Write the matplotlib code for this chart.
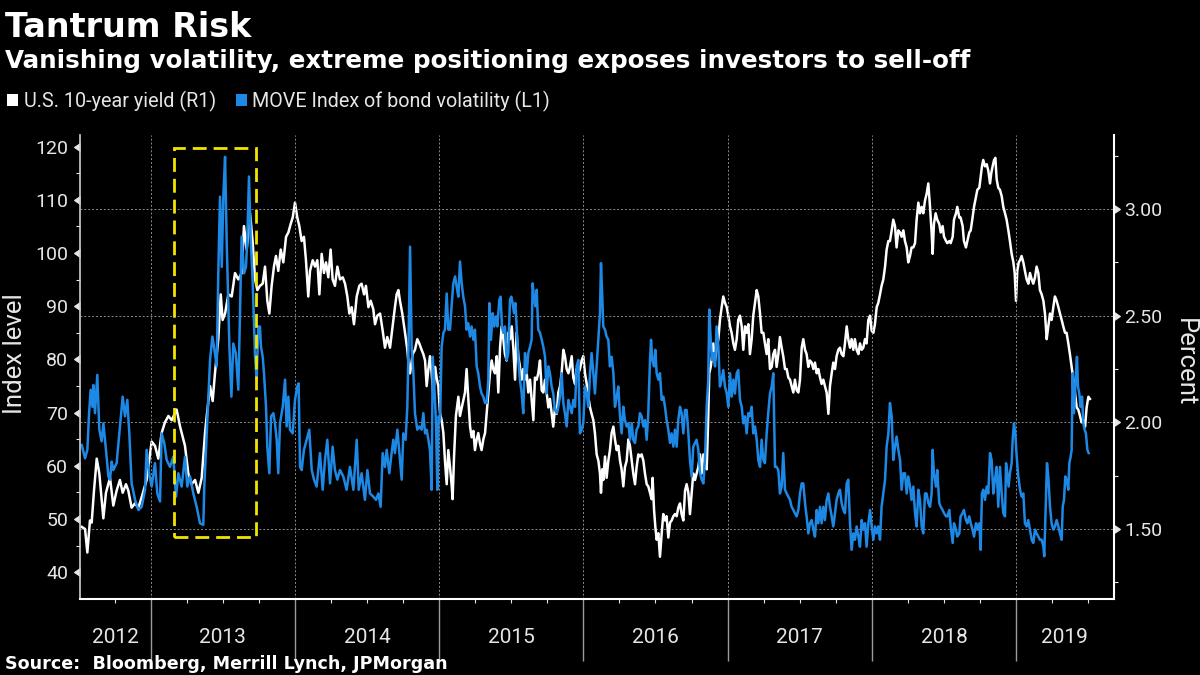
import matplotlib
matplotlib.use("Agg")
import matplotlib.pyplot as plt
from matplotlib.patches import Patch, Rectangle
from matplotlib.ticker import FormatStrFormatter

# MOVE index (left axis), time in decimal years
move_t = [
    2012.521, 2012.544, 2012.560, 2012.572, 2012.583, 2012.595, 2012.602, 2012.613, 2012.629, 2012.643,
    2012.659, 2012.671, 2012.689, 2012.706, 2012.717, 2012.729, 2012.740, 2012.763, 2012.786, 2012.805,
    2012.821, 2012.837, 2012.851, 2012.867, 2012.891, 2012.914, 2012.937, 2012.960, 2012.971, 2012.988,
    2013.006, 2013.029, 2013.045, 2013.064, 2013.075, 2013.094, 2013.110, 2013.133, 2013.156, 2013.175,
    2013.191, 2013.214, 2013.237, 2013.253, 2013.272, 2013.295, 2013.318, 2013.341, 2013.364, 2013.371,
    2013.388, 2013.411, 2013.427, 2013.438, 2013.457, 2013.468, 2013.480, 2013.492, 2013.503, 2013.515,
    2013.526, 2013.545, 2013.559, 2013.572, 2013.589, 2013.607,
    2013.630, 2013.646, 2013.660, 2013.669, 2013.681, 2013.693, 2013.706, 2013.723, 2013.734, 2013.746,
    2013.757, 2013.764, 2013.776, 2013.785, 2013.799, 2013.808, 2013.822, 2013.834, 2013.850, 2013.861,
    2013.873, 2013.884, 2013.896, 2013.915, 2013.931, 2013.942, 2013.954, 2013.965, 2013.984, 2014.000,
    2014.016, 2014.025, 2014.035, 2014.046, 2014.062, 2014.081, 2014.099, 2014.116, 2014.132, 2014.150,
    2014.173, 2014.192, 2014.208, 2014.224, 2014.243, 2014.261, 2014.277, 2014.294, 2014.312, 2014.335,
    2014.358, 2014.381, 2014.405, 2014.428, 2014.442, 2014.462, 2014.485, 2014.502, 2014.520, 2014.543,
    2014.562, 2014.578, 2014.594, 2014.608, 2014.624, 2014.636, 2014.654, 2014.670, 2014.682, 2014.693,
    2014.710, 2014.724, 2014.740, 2014.751, 2014.767, 2014.779, 2014.786,
    2014.798, 2014.809, 2014.821, 2014.832, 2014.848, 2014.862, 2014.878, 2014.890, 2014.902, 2014.913,
    2014.925, 2014.936, 2014.948, 2014.955, 2014.964, 2014.978, 2014.987, 2014.996, 2015.006, 2015.017,
    2015.029, 2015.040, 2015.052, 2015.063, 2015.075, 2015.086, 2015.098, 2015.110, 2015.121, 2015.133,
    2015.144, 2015.156, 2015.167, 2015.179, 2015.190, 2015.202, 2015.214, 2015.225, 2015.237, 2015.248,
    2015.260, 2015.271, 2015.283, 2015.294, 2015.306, 2015.318, 2015.329, 2015.341, 2015.348, 2015.359,
    2015.371, 2015.382, 2015.394, 2015.403, 2015.417, 2015.426, 2015.435, 2015.445, 2015.456, 2015.468,
    2015.479, 2015.491, 2015.500, 2015.509, 2015.519, 2015.528, 2015.537, 2015.549, 2015.560, 2015.572,
    2015.583, 2015.595, 2015.607, 2015.618, 2015.630, 2015.641, 2015.648, 2015.657, 2015.667, 2015.676,
    2015.687, 2015.699, 2015.711, 2015.722, 2015.734, 2015.745, 2015.757, 2015.768, 2015.780, 2015.791,
    2015.803, 2015.815, 2015.826, 2015.838, 2015.849, 2015.861, 2015.872, 2015.884, 2015.896, 2015.907,
    2015.919, 2015.930, 2015.942, 2015.953, 2015.965,
    2015.976, 2015.988, 2015.999, 2016.011, 2016.023, 2016.034, 2016.046, 2016.057, 2016.069, 2016.080,
    2016.092, 2016.104, 2016.115, 2016.122, 2016.131, 2016.138, 2016.150, 2016.161, 2016.173, 2016.184,
    2016.196, 2016.208, 2016.219, 2016.231, 2016.242, 2016.254, 2016.265, 2016.277, 2016.288, 2016.300,
    2016.312, 2016.323, 2016.335, 2016.346, 2016.358, 2016.369, 2016.381, 2016.392, 2016.404, 2016.416,
    2016.427, 2016.439, 2016.450, 2016.462, 2016.469, 2016.478, 2016.490, 2016.499, 2016.508, 2016.520,
    2016.531, 2016.543, 2016.554, 2016.566, 2016.577, 2016.589, 2016.601, 2016.612, 2016.624, 2016.635,
    2016.647, 2016.658, 2016.670, 2016.681, 2016.693, 2016.705, 2016.716, 2016.728, 2016.739, 2016.751,
    2016.762, 2016.774, 2016.785, 2016.797, 2016.809, 2016.820, 2016.832, 2016.843, 2016.855, 2016.866,
    2016.873, 2016.883, 2016.892, 2016.901, 2016.913, 2016.924, 2016.936, 2016.947, 2016.959, 2016.970,
    2016.982, 2016.994, 2017.005, 2017.017, 2017.028, 2017.040, 2017.051, 2017.063, 2017.074, 2017.086,
    2017.098, 2017.109, 2017.121, 2017.132, 2017.144,
    2017.155, 2017.167, 2017.178, 2017.190, 2017.202, 2017.213, 2017.225, 2017.236, 2017.248, 2017.259,
    2017.271, 2017.282, 2017.294, 2017.306, 2017.317, 2017.329, 2017.340, 2017.352, 2017.363, 2017.375,
    2017.386, 2017.398, 2017.410, 2017.421, 2017.433, 2017.444, 2017.456, 2017.467, 2017.479, 2017.491,
    2017.502, 2017.514, 2017.525, 2017.537, 2017.548, 2017.560, 2017.571, 2017.583, 2017.595, 2017.606,
    2017.618, 2017.629, 2017.641, 2017.652, 2017.664, 2017.675, 2017.687, 2017.699, 2017.710, 2017.722,
    2017.733, 2017.745, 2017.756, 2017.768, 2017.779, 2017.791, 2017.803, 2017.814, 2017.826, 2017.837,
    2017.849, 2017.860, 2017.872, 2017.883, 2017.895, 2017.907, 2017.918, 2017.930, 2017.941, 2017.953,
    2017.964, 2017.976, 2017.988, 2017.999, 2018.011, 2018.022, 2018.034, 2018.045, 2018.057, 2018.068,
    2018.080, 2018.092, 2018.103, 2018.115, 2018.126, 2018.138, 2018.149, 2018.161, 2018.172, 2018.184,
    2018.196, 2018.207, 2018.219, 2018.230, 2018.242, 2018.253, 2018.265, 2018.276, 2018.288, 2018.300,
    2018.311, 2018.323,
    2018.334, 2018.346, 2018.357, 2018.369, 2018.380, 2018.392, 2018.404, 2018.415, 2018.422, 2018.431,
    2018.445, 2018.454, 2018.468, 2018.478, 2018.491, 2018.501, 2018.515, 2018.524, 2018.538, 2018.547,
    2018.561, 2018.570, 2018.584, 2018.593, 2018.607, 2018.616, 2018.630, 2018.639, 2018.653, 2018.663,
    2018.676, 2018.686, 2018.699, 2018.709, 2018.723, 2018.732, 2018.746, 2018.755, 2018.764, 2018.773,
    2018.785, 2018.797, 2018.808, 2018.820, 2018.831, 2018.843, 2018.854, 2018.866, 2018.877, 2018.889,
    2018.901, 2018.912, 2018.924, 2018.931, 2018.940, 2018.949, 2018.958, 2018.970, 2018.977, 2018.986,
    2018.995, 2019.005, 2019.016, 2019.028, 2019.039, 2019.051, 2019.062, 2019.074, 2019.085, 2019.097,
    2019.109, 2019.120, 2019.132, 2019.143, 2019.155, 2019.166, 2019.178, 2019.190, 2019.196, 2019.206,
    2019.215, 2019.224, 2019.236, 2019.247, 2019.259, 2019.270, 2019.282, 2019.294, 2019.305, 2019.317,
    2019.324, 2019.333, 2019.342, 2019.351, 2019.363, 2019.370, 2019.379, 2019.386, 2019.393, 2019.402,
    2019.409, 2019.416, 2019.423, 2019.430, 2019.439, 2019.448, 2019.458, 2019.467, 2019.476, 2019.485,
    2019.495, 2019.504,
]
move_v = [
    63.9, 61.4, 63.0, 69.9, 74.3, 71.1, 75.2, 69.9, 77.1, 66.8,
    64.6, 68.0, 63.0, 58.0, 57.4, 60.8, 59.2, 60.5, 67.4, 73.0,
    69.3, 72.4, 66.1, 56.7, 53.6, 51.7, 52.3, 55.5, 63.0, 58.6,
    56.1, 60.5, 54.8, 53.3, 66.1, 64.2, 61.1, 59.8, 61.7, 54.2,
    58.6, 56.1, 61.7, 56.1, 58.0, 54.8, 52.3, 49.2, 48.9, 56.1,
    66.1, 79.9, 84.3, 82.4, 78.7, 96.2, 110.6, 97.4, 110.6, 118.1,
    102.5, 82.4, 73.0, 83.0, 81.2, 74.3,
    103.1, 96.2, 97.4, 102.5, 114.4, 102.5, 95.0, 80.5, 76.2, 86.2,
    86.2, 82.4, 80.5, 77.4, 71.1, 63.6, 58.6, 69.3, 69.9, 68.0,
    64.9, 58.6, 68.0, 71.1, 76.2, 67.4, 73.0, 66.8, 66.1, 72.4,
    74.9, 75.5, 59.8, 59.2, 63.0, 64.9, 66.8, 59.2, 57.4, 56.1,
    62.4, 55.5, 61.1, 64.9, 56.7, 63.6, 59.2, 57.4, 59.2, 58.0,
    55.5, 59.8, 55.5, 64.9, 55.5, 58.6, 53.6, 59.2, 54.8, 54.2,
    53.6, 54.8, 52.3, 62.4, 59.8, 63.0, 58.6, 62.4, 64.9, 62.4,
    66.8, 62.4, 57.4, 66.1, 64.9, 71.1, 80.5,
    101.2, 82.4, 77.4, 69.9, 66.8, 67.4, 66.8, 69.9, 66.1, 66.8,
    64.9, 63.0, 55.5, 80.5, 76.2, 68.0, 55.5, 69.3, 68.6, 82.4,
    85.0, 85.6, 92.4, 85.6, 85.6, 90.0, 94.3, 95.6, 93.7, 91.8,
    98.4, 94.3, 91.8, 90.0, 85.6, 86.8, 84.3, 86.2, 83.7, 85.6,
    78.7, 77.4, 74.9, 73.6, 73.0, 71.8, 71.8, 76.2, 90.6, 83.7,
    88.7, 86.2, 88.1, 86.2, 91.2, 91.8, 86.2, 85.0, 86.2, 79.9,
    81.2, 91.2, 91.8, 90.6, 88.7, 90.6, 86.2, 79.9, 76.2, 73.6,
    69.9, 81.2, 77.4, 81.2, 82.4, 83.7, 94.3, 91.8, 90.0, 93.1,
    85.6, 85.0, 83.7, 82.4, 80.5, 73.6, 78.7, 77.4, 74.9, 73.6,
    70.5, 69.9, 71.1, 73.0, 77.4, 71.8, 69.9, 67.4, 72.4, 71.1,
    69.9, 72.4, 71.1, 78.7, 79.9,
    66.1, 66.8, 68.0, 74.9, 73.6, 71.1, 77.4, 81.2, 77.4, 73.6,
    78.7, 83.7, 88.7, 98.1, 91.8, 86.2, 85.6, 84.3, 83.7, 78.7,
    80.5, 77.4, 71.1, 73.0, 74.9, 69.3, 66.1, 71.1, 68.6, 67.4,
    68.0, 64.9, 68.0, 64.9, 64.3, 66.8, 67.4, 69.9, 69.3, 67.4,
    68.6, 64.9, 69.9, 79.9, 83.7, 79.9, 78.7, 81.8, 77.4, 76.2,
    77.4, 72.4, 73.0, 71.1, 68.6, 66.8, 64.3, 66.1, 63.6, 66.8,
    63.6, 68.6, 71.1, 69.9, 66.1, 70.5, 70.5, 66.1, 61.1, 58.0,
    63.6, 64.3, 64.9, 63.0, 58.6, 57.4, 56.7, 61.1, 71.1, 76.2,
    89.4, 83.7, 79.9, 81.2, 78.7, 86.2, 82.4, 74.9, 76.2, 78.0,
    74.9, 73.6, 71.1, 77.4, 73.0, 76.2, 73.6, 77.4, 78.0, 72.4,
    71.1, 68.0, 69.3, 66.1, 69.9,
    69.3, 71.1, 66.1, 67.4, 64.9, 61.1, 59.8, 64.9, 61.1, 60.5,
    66.1, 69.9, 73.6, 74.9, 77.4, 59.8, 59.8, 59.2, 54.8, 56.1,
    62.4, 55.5, 54.8, 54.2, 53.6, 52.3, 51.7, 51.1, 50.5, 51.7,
    54.8, 56.7, 56.7, 53.0, 50.5, 47.3, 49.2, 49.8, 48.0, 46.7,
    51.7, 49.2, 52.3, 49.2, 52.3, 49.8, 53.6, 54.8, 52.3, 50.5,
    48.6, 51.1, 53.6, 54.8, 55.5, 53.0, 51.7, 51.1, 56.7, 57.4,
    49.2, 44.2, 47.3, 46.1, 48.6, 46.7, 44.8, 49.8, 48.0, 49.2,
    44.8, 49.2, 51.7, 48.6, 46.1, 48.6, 47.3, 48.6, 46.1, 52.3,
    54.8, 57.4, 63.6, 66.1, 71.8, 69.3, 61.1, 63.6, 65.5, 63.0,
    61.1, 55.5, 58.6, 58.6, 54.8, 58.0, 56.1, 53.6, 56.1, 51.1,
    48.6, 55.5,
    53.6, 48.6, 47.3, 54.8, 54.8, 53.0, 52.3, 54.8, 63.0, 58.6,
    56.1, 59.2, 53.0, 52.3, 51.7, 51.1, 50.5, 50.5, 51.7, 48.6,
    45.5, 49.2, 48.0, 46.7, 47.3, 50.5, 51.1, 51.7, 49.8, 49.2,
    50.5, 49.2, 48.0, 46.7, 49.2, 48.0, 49.2, 44.2, 54.8, 55.5,
    53.6, 56.1, 54.8, 62.4, 61.1, 54.8, 57.4, 59.8, 52.3, 59.8,
    54.8, 51.1, 50.5, 60.5, 58.6, 56.1, 58.6, 60.5, 64.9, 68.0,
    66.1, 61.7, 58.0, 55.5, 54.2, 54.8, 49.2, 48.6, 49.8, 48.0,
    46.1, 45.5, 48.0, 47.3, 46.7, 46.1, 46.1, 44.8, 43.0, 52.3,
    60.5, 58.0, 52.3, 49.2, 48.0, 48.6, 49.8, 48.6, 47.3, 46.1,
    52.3, 53.6, 58.0, 57.4, 55.5, 60.5, 61.7, 63.0, 77.4, 69.9,
    73.6, 77.4, 80.5, 74.9, 73.6, 71.1, 73.0, 68.0, 66.8, 66.1,
    63.0, 62.4,
]

# U.S. 10-year yield (right axis), percent
yield_t = [
    2012.521, 2012.544, 2012.560, 2012.578, 2012.590, 2012.606, 2012.625, 2012.643, 2012.659, 2012.671,
    2012.689, 2012.717, 2012.740, 2012.763, 2012.786, 2012.805, 2012.828, 2012.844, 2012.867, 2012.890,
    2012.914, 2012.937, 2012.971, 2013.006, 2013.029, 2013.052, 2013.075, 2013.098, 2013.122, 2013.145,
    2013.179, 2013.203, 2013.237, 2013.260, 2013.283, 2013.307, 2013.330, 2013.353, 2013.376, 2013.388,
    2013.411, 2013.429, 2013.445, 2013.468, 2013.485, 2013.498, 2013.515, 2013.538, 2013.561, 2013.584,
    2013.607,
    2013.630, 2013.646, 2013.665, 2013.688, 2013.706, 2013.723, 2013.739, 2013.757, 2013.776, 2013.792,
    2013.808, 2013.822, 2013.838, 2013.854, 2013.868, 2013.884, 2013.901, 2013.919, 2013.938, 2013.954,
    2013.970, 2013.984, 2014.000, 2014.016, 2014.030, 2014.046, 2014.062, 2014.076, 2014.092, 2014.104,
    2014.123, 2014.139, 2014.155, 2014.169, 2014.185, 2014.201, 2014.215, 2014.231, 2014.247, 2014.261,
    2014.277, 2014.294, 2014.312, 2014.331, 2014.347, 2014.363, 2014.377, 2014.393, 2014.409, 2014.428,
    2014.446, 2014.462, 2014.479, 2014.492, 2014.509, 2014.525, 2014.543, 2014.555, 2014.571, 2014.590,
    2014.608, 2014.624, 2014.640, 2014.659, 2014.677, 2014.693, 2014.705, 2014.717, 2014.728, 2014.744,
    2014.763, 2014.779, 2014.793,
    2014.798, 2014.816, 2014.832, 2014.848, 2014.862, 2014.878, 2014.890, 2014.902, 2014.913, 2014.925,
    2014.936, 2014.948, 2014.959, 2014.971, 2014.982, 2014.994, 2015.006, 2015.017, 2015.029, 2015.040,
    2015.052, 2015.063, 2015.075, 2015.086, 2015.093, 2015.103, 2015.116, 2015.133, 2015.144, 2015.163,
    2015.179, 2015.190, 2015.202, 2015.214, 2015.225, 2015.237, 2015.248, 2015.260, 2015.271, 2015.283,
    2015.294, 2015.306, 2015.318, 2015.329, 2015.341, 2015.352, 2015.364, 2015.375, 2015.387, 2015.399,
    2015.410, 2015.422, 2015.433, 2015.445, 2015.456, 2015.468, 2015.479, 2015.491, 2015.503, 2015.514,
    2015.526, 2015.537, 2015.549, 2015.560, 2015.572, 2015.583, 2015.595, 2015.607, 2015.618, 2015.630,
    2015.641, 2015.653, 2015.664, 2015.676, 2015.687, 2015.699, 2015.711, 2015.722, 2015.734, 2015.745,
    2015.757, 2015.768, 2015.780, 2015.791, 2015.803, 2015.815, 2015.826, 2015.838, 2015.849, 2015.861,
    2015.872, 2015.884, 2015.896, 2015.907, 2015.919, 2015.930, 2015.942, 2015.953, 2015.965,
    2015.976, 2015.988, 2015.999, 2016.011, 2016.023, 2016.034, 2016.046, 2016.057, 2016.069, 2016.080,
    2016.092, 2016.104, 2016.115, 2016.122, 2016.131, 2016.138, 2016.150, 2016.161, 2016.173, 2016.184,
    2016.196, 2016.208, 2016.219, 2016.231, 2016.242, 2016.254, 2016.265, 2016.277, 2016.288, 2016.300,
    2016.312, 2016.323, 2016.335, 2016.346, 2016.358, 2016.369, 2016.381, 2016.392, 2016.404, 2016.416,
    2016.427, 2016.439, 2016.450, 2016.462, 2016.473, 2016.480, 2016.490, 2016.499, 2016.508, 2016.520,
    2016.531, 2016.543, 2016.554, 2016.566, 2016.577, 2016.589, 2016.601, 2016.612, 2016.624, 2016.635,
    2016.647, 2016.658, 2016.670, 2016.681, 2016.693, 2016.705, 2016.716, 2016.728, 2016.739, 2016.751,
    2016.762, 2016.774, 2016.785, 2016.797, 2016.809, 2016.820, 2016.832, 2016.843, 2016.855, 2016.864,
    2016.873, 2016.883, 2016.892, 2016.901, 2016.913, 2016.924, 2016.936, 2016.947, 2016.959, 2016.970,
    2016.982, 2016.994, 2017.005, 2017.017, 2017.028, 2017.040, 2017.051, 2017.063, 2017.074, 2017.086,
    2017.098, 2017.109, 2017.121, 2017.132, 2017.144,
    2017.155, 2017.167, 2017.178, 2017.190, 2017.202, 2017.213, 2017.225, 2017.236, 2017.248, 2017.259,
    2017.271, 2017.282, 2017.294, 2017.306, 2017.317, 2017.329, 2017.340, 2017.352, 2017.363, 2017.375,
    2017.386, 2017.398, 2017.410, 2017.421, 2017.433, 2017.444, 2017.456, 2017.467, 2017.479, 2017.491,
    2017.502, 2017.514, 2017.525, 2017.537, 2017.548, 2017.560, 2017.571, 2017.583, 2017.595, 2017.606,
    2017.618, 2017.629, 2017.641, 2017.652, 2017.664, 2017.675, 2017.687, 2017.699, 2017.710, 2017.722,
    2017.733, 2017.745, 2017.756, 2017.768, 2017.779, 2017.791, 2017.803, 2017.814, 2017.826, 2017.837,
    2017.849, 2017.860, 2017.872, 2017.883, 2017.895, 2017.907, 2017.918, 2017.930, 2017.941, 2017.953,
    2017.964, 2017.976, 2017.988, 2017.999, 2018.011, 2018.022, 2018.034, 2018.045, 2018.057, 2018.068,
    2018.080, 2018.092, 2018.103, 2018.115, 2018.126, 2018.138, 2018.149, 2018.161, 2018.172, 2018.184,
    2018.196, 2018.207, 2018.219, 2018.230, 2018.242, 2018.253, 2018.265, 2018.276, 2018.288, 2018.300,
    2018.311, 2018.323,
    2018.334, 2018.346, 2018.357, 2018.369, 2018.380, 2018.392, 2018.404, 2018.415, 2018.422, 2018.431,
    2018.443, 2018.454, 2018.468, 2018.478, 2018.491, 2018.501, 2018.515, 2018.524, 2018.538, 2018.547,
    2018.561, 2018.570, 2018.584, 2018.593, 2018.607, 2018.616, 2018.630, 2018.639, 2018.653, 2018.663,
    2018.676, 2018.686, 2018.699, 2018.709, 2018.723, 2018.732, 2018.746, 2018.755, 2018.764, 2018.773,
    2018.785, 2018.797, 2018.808, 2018.820, 2018.829, 2018.838, 2018.848, 2018.857, 2018.866, 2018.877,
    2018.889, 2018.901, 2018.912, 2018.924, 2018.935, 2018.947, 2018.958, 2018.970, 2018.982, 2018.991,
    2019.000, 2019.009, 2019.019, 2019.028, 2019.039, 2019.051, 2019.062, 2019.074, 2019.086, 2019.097,
    2019.109, 2019.120, 2019.132, 2019.143, 2019.155, 2019.166, 2019.178, 2019.190, 2019.201, 2019.213,
    2019.224, 2019.236, 2019.247, 2019.259, 2019.270, 2019.282, 2019.294, 2019.305, 2019.317, 2019.328,
    2019.340, 2019.351, 2019.363, 2019.374, 2019.386, 2019.398, 2019.409, 2019.421, 2019.432, 2019.444,
    2019.455, 2019.467, 2019.479, 2019.490, 2019.502, 2019.513,
]
yield_v = [
    1.51, 1.50, 1.39, 1.54, 1.53, 1.68, 1.83, 1.76, 1.64, 1.55,
    1.67, 1.74, 1.61, 1.68, 1.73, 1.67, 1.71, 1.68, 1.60, 1.62,
    1.60, 1.65, 1.73, 1.91, 1.89, 1.83, 1.95, 2.00, 2.03, 2.01,
    2.06, 1.98, 1.89, 1.76, 1.71, 1.73, 1.67, 1.74, 1.95, 2.03,
    2.17, 2.10, 2.23, 2.39, 2.60, 2.48, 2.51, 2.60, 2.59, 2.70,
    2.67,
    2.70, 2.92, 2.81, 2.98, 2.85, 2.67, 2.62, 2.64, 2.65, 2.73,
    2.57, 2.51, 2.64, 2.73, 2.78, 2.71, 2.81, 2.75, 2.87, 2.89,
    2.93, 2.96, 3.03, 2.96, 2.92, 2.85, 2.87, 2.76, 2.59, 2.71,
    2.76, 2.73, 2.76, 2.60, 2.79, 2.70, 2.75, 2.68, 2.81, 2.67,
    2.64, 2.73, 2.67, 2.68, 2.65, 2.59, 2.51, 2.54, 2.46, 2.59,
    2.64, 2.65, 2.60, 2.64, 2.54, 2.57, 2.53, 2.46, 2.50, 2.51,
    2.43, 2.35, 2.40, 2.35, 2.45, 2.54, 2.60, 2.62, 2.57, 2.51,
    2.42, 2.34, 2.23,
    2.23, 2.32, 2.34, 2.39, 2.37, 2.34, 2.32, 2.29, 2.17, 2.25,
    2.31, 2.23, 2.12, 2.26, 2.21, 2.17, 2.04, 2.01, 1.95, 1.82,
    1.71, 1.87, 1.79, 1.71, 1.64, 1.84, 2.03, 2.12, 2.03, 2.09,
    2.14, 2.25, 2.11, 1.98, 1.93, 1.96, 1.87, 1.92, 1.95, 1.90,
    1.87, 1.92, 1.95, 2.04, 2.14, 2.23, 2.29, 2.25, 2.23, 2.31,
    2.14, 2.35, 2.45, 2.39, 2.32, 2.29, 2.42, 2.39, 2.45, 2.35,
    2.20, 2.42, 2.31, 2.26, 2.20, 2.25, 2.20, 2.23, 2.14, 2.20,
    2.11, 2.01, 2.21, 2.20, 2.23, 2.29, 2.15, 2.14, 2.20, 2.14,
    2.07, 2.11, 2.04, 1.98, 2.07, 2.04, 2.14, 2.17, 2.23, 2.34,
    2.31, 2.25, 2.23, 2.26, 2.31, 2.21, 2.18, 2.25, 2.23,
    2.25, 2.29, 2.31, 2.23, 2.18, 2.12, 2.07, 2.04, 2.01, 1.95,
    1.85, 1.82, 1.76, 1.67, 1.78, 1.73, 1.84, 1.74, 1.82, 1.87,
    1.95, 1.98, 1.92, 1.87, 1.89, 1.82, 1.78, 1.70, 1.79, 1.82,
    1.92, 1.89, 1.82, 1.76, 1.71, 1.79, 1.85, 1.84, 1.85, 1.82,
    1.76, 1.71, 1.70, 1.67, 1.64, 1.74, 1.59, 1.51, 1.45, 1.48,
    1.37, 1.48, 1.57, 1.54, 1.56, 1.46, 1.53, 1.54, 1.56, 1.57,
    1.56, 1.60, 1.62, 1.57, 1.54, 1.68, 1.71, 1.67, 1.57, 1.67,
    1.76, 1.73, 1.76, 1.79, 1.85, 1.76, 1.85, 1.84, 1.78, 1.98,
    2.23, 2.26, 2.31, 2.37, 2.29, 2.35, 2.39, 2.48, 2.54, 2.59,
    2.56, 2.54, 2.50, 2.45, 2.42, 2.37, 2.34, 2.39, 2.48, 2.50,
    2.45, 2.34, 2.45, 2.42, 2.46,
    2.32, 2.39, 2.50, 2.56, 2.62, 2.59, 2.51, 2.42, 2.42, 2.37,
    2.32, 2.39, 2.25, 2.26, 2.32, 2.34, 2.26, 2.32, 2.40, 2.35,
    2.31, 2.25, 2.25, 2.21, 2.20, 2.17, 2.14, 2.20, 2.15, 2.14,
    2.20, 2.35, 2.39, 2.34, 2.32, 2.26, 2.29, 2.28, 2.25, 2.28,
    2.23, 2.25, 2.21, 2.18, 2.20, 2.17, 2.14, 2.04, 2.17, 2.23,
    2.28, 2.25, 2.31, 2.34, 2.35, 2.32, 2.31, 2.37, 2.45, 2.39,
    2.35, 2.39, 2.34, 2.39, 2.34, 2.32, 2.37, 2.34, 2.35, 2.39,
    2.37, 2.48, 2.50, 2.43, 2.42, 2.46, 2.54, 2.56, 2.60, 2.64,
    2.67, 2.73, 2.81, 2.85, 2.85, 2.90, 2.95, 2.92, 2.82, 2.90,
    2.89, 2.87, 2.90, 2.85, 2.82, 2.75, 2.78, 2.82, 2.82, 2.84,
    2.95, 3.03,
    2.98, 3.01, 2.98, 3.04, 3.07, 3.12, 3.01, 2.89, 2.79, 2.93,
    2.98, 2.95, 2.93, 2.89, 2.92, 2.87, 2.85, 2.84, 2.85, 2.84,
    2.87, 2.95, 2.98, 3.01, 2.96, 2.96, 2.92, 2.85, 2.82, 2.85,
    2.89, 2.90, 2.96, 3.01, 3.06, 3.09, 3.10, 3.15, 3.20, 3.23,
    3.20, 3.21, 3.18, 3.12, 3.17, 3.20, 3.23, 3.24, 3.14, 3.10,
    3.09, 3.06, 3.01, 2.98, 2.95, 2.90, 2.85, 2.79, 2.75, 2.70,
    2.57, 2.71, 2.75, 2.76, 2.78, 2.75, 2.71, 2.67, 2.65, 2.70,
    2.67, 2.65, 2.68, 2.73, 2.70, 2.62, 2.60, 2.57, 2.51, 2.39,
    2.45, 2.51, 2.48, 2.54, 2.59, 2.57, 2.54, 2.51, 2.48, 2.45,
    2.42, 2.42, 2.37, 2.32, 2.26, 2.20, 2.14, 2.07, 2.06, 2.03,
    2.00, 2.01, 1.98, 2.07, 2.12, 2.11,
]

year_labels = ['2012', '2013', '2014', '2015', '2016', '2017', '2018', '2019']
year_starts = [2012, 2013, 2014, 2015, 2016, 2017, 2018, 2019]

# highlighted taper tantrum window (time span, MOVE range)
box_t = (2013.163, 2013.730)
box_v = (46.6, 119.7)

BLUE = '#1e88e5'
GRID = '#8a8a8a'
TXT = '#e6e6e6'
SANS = 'Roboto'
BOLD = 'DejaVu Sans'

plt.rcParams['font.family'] = SANS

fig = plt.figure(figsize=(12, 6.75), dpi=100, facecolor='black')
ax = fig.add_axes([80 / 1200, 76 / 675, 1033.6 / 1200, 464 / 675])
ax2 = ax.twinx()
ax.set_zorder(ax2.get_zorder() + 1)
ax.patch.set_visible(False)
ax2.patch.set_facecolor('black')
ax2.patch.set_visible(True)

xmin, xmax = 2012.509, 2019.677
ax.set_xlim(xmin, xmax)
ax.set_ylim(34.96, 122.2)
ax2.set_ylim(1.172, 3.347)

ax2.plot(yield_t, yield_v, color='white', lw=1.8, solid_joinstyle='round')
ax.plot(move_t, move_v, color=BLUE, lw=1.8, solid_joinstyle='round')

box = Rectangle((box_t[0], box_v[0]), box_t[1] - box_t[0], box_v[1] - box_v[0],
                fill=False, edgecolor='#f2e400', lw=2, linestyle=(0, (5, 2.5)), zorder=5)
ax.add_patch(box)

# left axis (MOVE)
ax.set_yticks(range(40, 121, 10))
ax.set_yticks(range(45, 121, 10), minor=True)
ax.tick_params(axis='y', which='major', length=5.5, width=0.8, color=TXT,
               labelcolor=TXT, labelsize=14, pad=3)
ax.tick_params(axis='y', which='minor', length=3, width=0.8, color=TXT)
for t in ax.yaxis.get_major_ticks():
    t.tick1line.set_marker(8)

# right axis (yield)
ax2.set_yticks([1.5, 2.0, 2.5, 3.0])
ax2.set_yticks([1.25, 1.75, 2.25, 2.75, 3.25], minor=True)
ax2.yaxis.set_major_formatter(FormatStrFormatter('%.2f'))
ax2.tick_params(axis='y', which='major', length=5.5, width=0.8, color=TXT,
                labelcolor=TXT, labelsize=14, pad=2)
ax2.tick_params(axis='y', which='minor', length=3, width=0.8, color=TXT)
for t in ax2.yaxis.get_major_ticks():
    t.tick2line.set_marker(9)
ax2.grid(axis='y', which='major', color=GRID, ls=(0, (2, 2)), lw=0.7)

# x axis: year separators and quarter ticks
ax.set_xticks(year_starts[1:])
ax.set_xticks([y + q for y in year_starts for q in (0.25, 0.5, 0.75)
               if xmin < y + q < xmax], minor=True)
ax.tick_params(axis='x', which='major', length=44.5, width=1, color='#9a9a9a',
               labelbottom=False)
ax.tick_params(axis='x', which='minor', length=3, width=0.8, color=TXT)
ax.grid(axis='x', which='major', color=GRID, ls=(0, (2, 2)), lw=0.7)
ax.grid(axis='y', visible=False)

for lab, y0 in zip(year_labels, year_starts):
    lo, hi = max(y0, xmin), min(y0 + 1, xmax)
    ax.text((lo + hi) / 2, -0.084, lab, transform=ax.get_xaxis_transform(),
            ha='center', va='center', color=TXT, fontsize=15)

for a in (ax, ax2):
    a.spines['top'].set_visible(False)
ax.spines['right'].set_visible(False)
ax2.spines['left'].set_visible(False)
ax2.spines['bottom'].set_visible(False)
ax.spines['left'].set_color('#cfcfcf')
ax.spines['left'].set_linewidth(1.2)
ax.spines['bottom'].set_color('white')
ax.spines['bottom'].set_linewidth(1.5)
ax2.spines['right'].set_color('white')
ax2.spines['right'].set_linewidth(1.5)

fig.text(15 / 1200, 1 - 354 / 675, 'Index level', rotation=90, ha='center', va='center',
         color=TXT, fontsize=18.5)
fig.text(1185 / 1200, 1 - 362 / 675, 'Percent', rotation=270, ha='center', va='center',
         color=TXT, fontsize=18.5)

# headline block
fig.text(5 / 1200, 1 - 37 / 675, 'Tantrum Risk', family=BOLD, weight='bold',
         fontsize=24, color='white', va='baseline')
fig.text(5 / 1200, 1 - 68 / 675,
         'Vanishing volatility, extreme positioning exposes investors to sell-off',
         family=BOLD, weight='bold', fontsize=17.7, color='white', va='baseline')
handles = [Patch(facecolor='white', edgecolor='none'), Patch(facecolor=BLUE, edgecolor='none')]
fig.legend(handles, ['U.S. 10-year yield (R1)', 'MOVE Index of bond volatility (L1)'],
           loc='center left', bbox_to_anchor=(7 / 1200, 1 - 101 / 675), ncol=2,
           frameon=False, handlelength=0.55, handleheight=0.55, handletextpad=0.3,
           columnspacing=1.0, borderpad=0, borderaxespad=0, labelcolor=TXT,
           prop={'family': SANS, 'size': 14.2})
fig.text(5 / 1200, 6 / 675, 'Source:  Bloomberg, Merrill Lynch, JPMorgan', family=BOLD,
         weight='bold', fontsize=12.6, color='white', va='baseline')

fig.savefig('out.png', dpi=100, facecolor='black')
